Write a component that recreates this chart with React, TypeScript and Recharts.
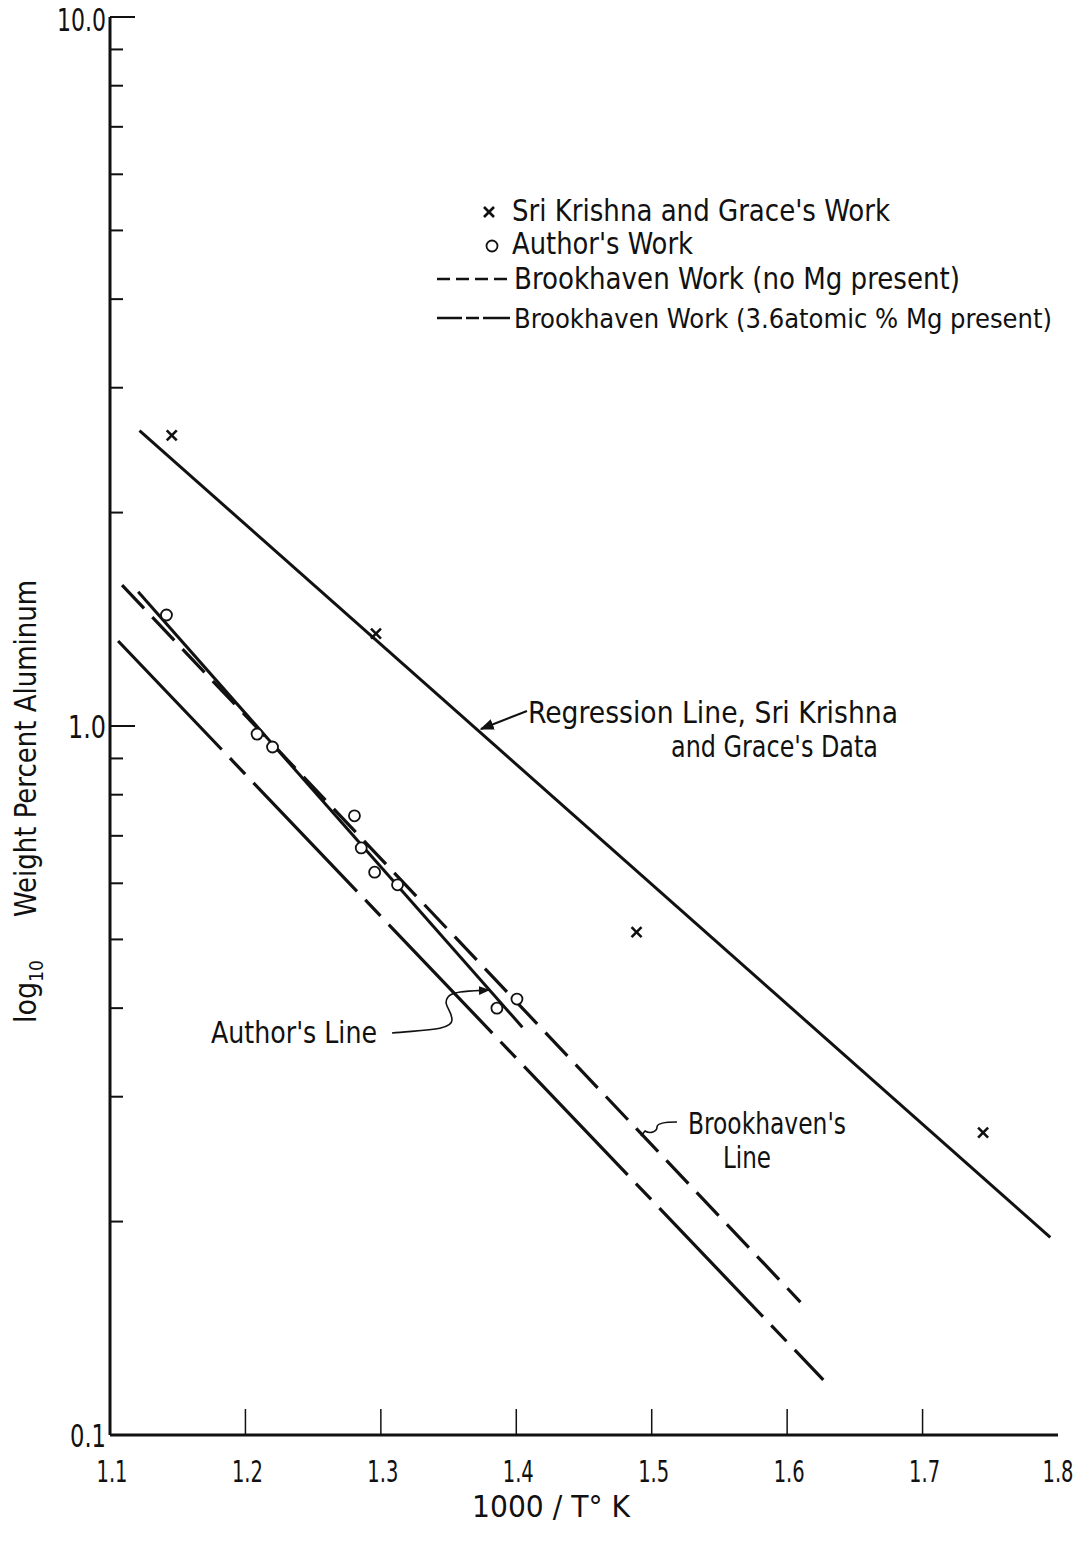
import { ComposedChart, Line, Scatter, XAxis, YAxis } from "recharts";

// Solubility of aluminum vs reciprocal temperature (log scale)
const X_TICKS = [1.1, 1.2, 1.3, 1.4, 1.5, 1.6, 1.7, 1.8];
const Y_TICKS = [
  0.1, 0.2, 0.3, 0.4, 0.5, 0.6, 0.7, 0.8, 0.9,
  1, 2, 3, 4, 5, 6, 7, 8, 9, 10,
];
const Y_LABELS: Record<string, string> = { "0.1": "0.1", "1": "1.0", "10": "10.0" };

// Sri Krishna and Grace's Work (x markers)
const krishnaX = [1.1456, 1.2964, 1.4888, 1.7447];
const krishnaY = [2.57, 1.35, 0.512, 0.267];

// Author's Work (open circles)
const authorX = [1.1417, 1.2086, 1.22, 1.2805, 1.2855, 1.2954, 1.3123, 1.3857, 1.4005];
const authorY = [1.434, 0.974, 0.934, 0.747, 0.673, 0.622, 0.597, 0.4, 0.412];

// fitted lines, endpoints
const regressionX = [1.1218, 1.7943];
const regressionY = [2.61, 0.19];
const authorLineX = [1.1208, 1.4045];
const authorLineY = [1.546, 0.376];
const noMgX = [1.1089, 1.6098];
const noMgY = [1.58, 0.154];
const mgX = [1.106, 1.6267];
const mgY = [1.318, 0.1196];

const zip = (xs: number[], ys: number[]) => xs.map((x, i) => ({ x, y: ys[i] }));

const FONT = "'DejaVu Sans Condensed', 'DejaVu Sans', 'Noto Sans', sans-serif";
const INK = "#111";

// squeeze glyphs into a given width to get the narrow face of the original lettering
const squeeze = (w: number) => ({ textLength: w, lengthAdjust: "spacingAndGlyphs" as const });

const Y_LABEL_W: Record<string, number> = { "0.1": 36, "1.0": 38, "10.0": 49 };

const YTick = (props: any) => {
  const { x, y, payload } = props;
  const label = Y_LABELS[String(payload.value)];
  return (
    <g>
      <line x1={x} x2={x + (label ? 25 : 13)} y1={y} y2={y} stroke={INK} strokeWidth={2} />
      {label && (
        <text x={x - 4} y={y + (label === "10.0" ? 14 : 12)} textAnchor="end" fontFamily={FONT}
          fontSize={32} fill={INK} {...squeeze(Y_LABEL_W[label])}>
          {label}
        </text>
      )}
    </g>
  );
};

const XTick = (props: any) => {
  const { x, y, payload } = props;
  const edge = payload.value === 1.1 || payload.value === 1.8;
  return (
    <g>
      {!edge && <line x1={x} x2={x} y1={y} y2={y - 26} stroke={INK} strokeWidth={1.5} />}
      <text x={x + (payload.value === 1.8 ? 0 : 2)} y={y + 47} textAnchor="middle" fontFamily={FONT}
        fontSize={31} fill={INK} {...squeeze(31)}>
        {payload.value.toFixed(1)}
      </text>
    </g>
  );
};

const Cross = (props: any) => {
  const { cx, cy } = props;
  const s = 5;
  return (
    <g stroke={INK} strokeWidth={2.6}>
      <line x1={cx - s} y1={cy - s} x2={cx + s} y2={cy + s} />
      <line x1={cx - s} y1={cy + s} x2={cx + s} y2={cy - s} />
    </g>
  );
};

const Ring = (props: any) => {
  const { cx, cy } = props;
  return <circle cx={cx} cy={cy} r={5.5} fill="#fff" stroke={INK} strokeWidth={1.8} />;
};

const lbl = { fontFamily: FONT, fontSize: 30, fill: INK } as const;

export default function App() {
  return (
    <div style={{ position: "absolute", left: 0, top: 0, width: 1084, height: 1544, background: "#fff" }}>
      <ComposedChart width={1084} height={1544} margin={{ top: 17, right: 26, bottom: 49, left: 50 }}>
        <XAxis
          type="number"
          dataKey="x"
          domain={[1.1, 1.8]}
          ticks={X_TICKS}
          interval={0}
          height={60}
          tickSize={0}
          tickMargin={0}
          tickLine={false}
          axisLine={{ stroke: INK, strokeWidth: 3 }}
          tick={<XTick />}
        />
        <XAxis
          xAxisId="top"
          orientation="top"
          type="number"
          dataKey="x"
          domain={[1.1, 1.8]}
          height={0}
          tick={false}
          tickLine={false}
          axisLine={{ stroke: INK, strokeWidth: 2 }}
        />
        <YAxis
          type="number"
          scale="log"
          domain={[0.1, 10]}
          ticks={Y_TICKS}
          interval={0}
          width={60}
          tickSize={0}
          tickMargin={0}
          tickLine={false}
          allowDataOverflow
          axisLine={{ stroke: INK, strokeWidth: 3 }}
          tick={<YTick />}
        />
        <YAxis
          yAxisId="right"
          orientation="right"
          type="number"
          scale="log"
          domain={[0.1, 10]}
          width={0}
          tick={false}
          tickLine={false}
          axisLine={{ stroke: INK, strokeWidth: 2 }}
        />

        <Line data={zip(regressionX, regressionY)} dataKey="y" type="linear" stroke={INK} strokeWidth={3}
          dot={false} activeDot={false} isAnimationActive={false} />
        <Line data={zip(authorLineX, authorLineY)} dataKey="y" type="linear" stroke={INK} strokeWidth={3}
          dot={false} activeDot={false} isAnimationActive={false} />
        <Line data={zip(noMgX, noMgY)} dataKey="y" type="linear" stroke={INK} strokeWidth={3.2}
          strokeDasharray="32 12" dot={false} activeDot={false} isAnimationActive={false} />
        <Line data={zip(mgX, mgY)} dataKey="y" type="linear" stroke={INK} strokeWidth={3.2}
          strokeDasharray="150 12 22 12" dot={false} activeDot={false} isAnimationActive={false} />

        <Scatter data={zip(krishnaX, krishnaY)} dataKey="y" shape={<Cross />} isAnimationActive={false} />
        <Scatter data={zip(authorX, authorY)} dataKey="y" shape={<Ring />} isAnimationActive={false} />
      </ComposedChart>

      {/* legend, annotations and axis titles */}
      <svg width={1084} height={1544} style={{ position: "absolute", left: 0, top: 0, pointerEvents: "none" }}>
        <defs>
          <marker id="head" viewBox="0 0 10 10" refX="9" refY="5" markerWidth="7" markerHeight="7" orient="auto-start-reverse">
            <path d="M0,1 L10,5 L0,9 z" fill={INK} />
          </marker>
        </defs>

        <Cross cx={489} cy={212} />
        <text x={512} y={221} {...squeeze(378)} {...lbl}>Sri Krishna  and  Grace's Work</text>
        <Ring cx={492} cy={246} />
        <text x={512} y={254} {...squeeze(181)} {...lbl}>Author's  Work</text>
        <line x1={437} x2={510} y1={279} y2={279} stroke={INK} strokeWidth={2.5} strokeDasharray="13 6" />
        <text x={514} y={289} {...squeeze(446)} {...lbl}>Brookhaven  Work  (no  Mg  present)</text>
        <line x1={437} x2={510} y1={318} y2={318} stroke={INK} strokeWidth={2.5} strokeDasharray="25 4 13 4 40" />
        <text x={514} y={328} {...squeeze(538)} {...lbl} fontSize={27}>Brookhaven Work (3.6atomic % Mg present)</text>

        <path d="M527,711 L481,729" stroke={INK} strokeWidth={2} fill="none" markerEnd="url(#head)" />
        <text x={528} y={723} {...squeeze(370)} {...lbl}>Regression  Line,  Sri  Krishna</text>
        <text x={671} y={757} {...squeeze(207)} {...lbl}>and Grace's  Data</text>

        <path d="M392,1033 C420,1030 452,1031 452,1020 C452,1010 442,1005 448,997 C452,991 470,991 489,990"
          stroke={INK} strokeWidth={1.6} fill="none" markerEnd="url(#head)" />
        <text x={211} y={1043} {...squeeze(166)} {...lbl}>Author's Line</text>

        <path d="M677,1122 C668,1122 657,1123 657,1127 C657,1132 650,1134 645,1131 L641,1136"
          stroke={INK} strokeWidth={1.6} fill="none" />
        <text x={688} y={1134} {...squeeze(158)} {...lbl}>Brookhaven's</text>
        <text x={723} y={1168} {...squeeze(48)} {...lbl}>Line</text>

        <text x={472} y={1517} {...squeeze(158)} {...lbl}>1000 / T° K</text>

        <text transform="translate(36,917) rotate(-90)" {...squeeze(337)} {...lbl}>Weight Percent Aluminum</text>
        <text transform="translate(36,1023) rotate(-90)" {...lbl}>
          <tspan>log</tspan>
          <tspan fontSize={19} dy={7}>10</tspan>
        </text>
      </svg>
    </div>
  );
}
